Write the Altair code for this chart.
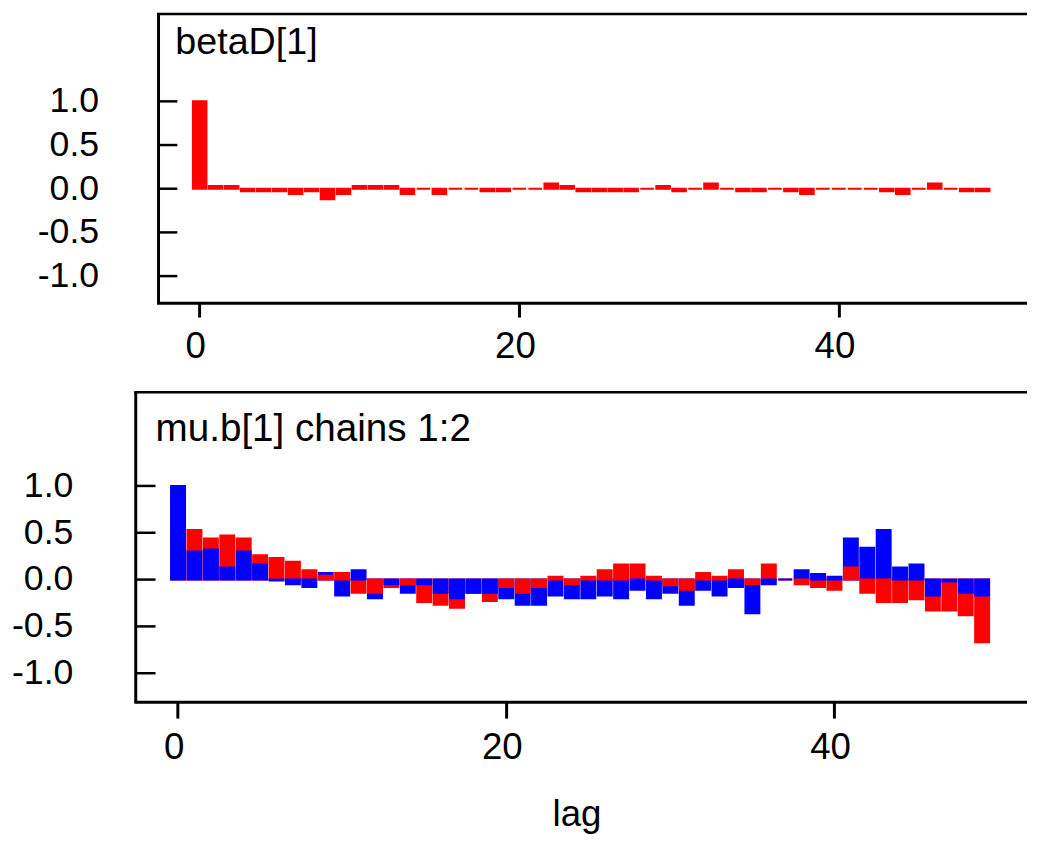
import altair as alt
import pandas as pd

# ---------------- data ----------------
lags = list(range(50))

betaD_acf = [1.0, 0.03, 0.03, -0.03, -0.03, -0.03, -0.06, -0.03, -0.12, -0.06,
             0.03, 0.03, 0.03, -0.06, 0.0, -0.06, 0.0, 0.0, -0.03, -0.03,
             0.0, 0.0, 0.06, 0.03, -0.03, -0.03, -0.03, -0.03, 0.0, 0.03,
             -0.03, 0.0, 0.06, 0.0, -0.03, -0.03, 0.0, -0.03, -0.06, 0.0,
             0.0, 0.0, 0.0, -0.03, -0.06, 0.0, 0.06, 0.0, -0.03, -0.03]

mub_chain1 = [1.0, 0.30, 0.32, 0.13, 0.30, 0.16, -0.01, -0.05, -0.08, 0.07,
              -0.17, 0.10, -0.20, -0.05, -0.14, -0.05, -0.14, -0.20, -0.14, -0.14,
              -0.20, -0.27, -0.27, -0.17, -0.20, -0.20, -0.17, -0.20, -0.11, -0.20,
              -0.14, -0.27, -0.11, -0.17, -0.08, -0.36, -0.05, 0.0, 0.10, 0.06,
              0.03, 0.44, 0.34, 0.53, 0.13, 0.16, -0.17, -0.02, -0.14, -0.17]

mub_chain2 = [1.0, 0.53, 0.44, 0.47, 0.44, 0.26, 0.23, 0.19, 0.10, 0.04,
              0.07, -0.14, -0.14, -0.08, -0.05, -0.24, -0.27, -0.30, -0.14, -0.23,
              -0.08, -0.14, -0.08, 0.03, -0.05, 0.03, 0.10, 0.16, 0.16, 0.03,
              -0.06, -0.11, 0.07, 0.03, 0.10, -0.05, 0.16, 0.0, -0.05, -0.08,
              -0.11, 0.13, -0.14, -0.24, -0.24, -0.21, -0.33, -0.33, -0.38, -0.67]

ytick_values = [-1.0, -0.5, 0.0, 0.5, 1.0]
ytick_labels = ["-1.0", "-0.5", "0.0", "0.5", "1.0"]
xtick_values = [0, 20, 40]
panel_titles = ["betaD[1]", "mu.b[1] chains 1:2"]
chain_names = ["1", "2"]
chain_colors = ["#0000FF", "#FF0000"]
x_title = "lag"

FONT = "Liberation Sans"

# ---------------- tables ----------------
top_df = pd.DataFrame({"lag": lags, "acf": betaD_acf, "chain": "2"})

rows = []
for lag, a, b in zip(lags, mub_chain1, mub_chain2):
    pair = [("1", a), ("2", b)]
    # the bar with the larger magnitude is drawn first, the smaller one on top
    pair.sort(key=lambda p: (-abs(p[1]), p[0] == "1"))
    for ch, v in pair:
        rows.append({"lag": lag, "acf": v, "chain": ch})
bot_df = pd.DataFrame(rows)

ytick_df = pd.DataFrame({"v": ytick_values, "lab": ytick_labels})
one_df = pd.DataFrame({"v": [0]})

color_scale = alt.Scale(domain=chain_names, range=chain_colors)
y_scale = alt.Scale(domain=[-1.31, 2.0], nice=False, zero=False)

WIDTH = 877      # common plot width (both panels share the same origin)
SPACER = 152     # how far every panel reaches to the left of its origin


def panel(df, title, height, x_domain, shift, inner_tick, xtick_size,
          xlab_pad, ylab_pad, tx, ty, title_size, show_xtitle):
    """shift: how many pixels the frame (left axis) sits left of the origin."""
    x_scale = alt.Scale(domain=x_domain, nice=False, zero=False)
    xaxis_kw = dict(values=xtick_values, format="d", tickSize=xtick_size,
                    tickWidth=3, tickColor="black", domain=False,
                    labelFontSize=37, labelFont=FONT,
                    labelColor="black", labelPadding=xlab_pad, grid=False,
                    labelFlush=False, labelOffset=-4)
    if show_xtitle:
        xaxis_kw.update(title=x_title, titleFontSize=37, titleFont=FONT,
                        titleFontWeight="normal", titleColor="black",
                        titlePadding=31, titleX=422)
    else:
        xaxis_kw.update(title=None)

    bars = alt.Chart(df).transform_calculate(
        lo="datum.lag - 0.4", hi="datum.lag + 0.45"
    ).mark_rect(strokeWidth=2).encode(
        x=alt.X("lo:Q", scale=x_scale, axis=alt.Axis(**xaxis_kw)),
        x2="hi:Q",
        y=alt.Y("acf:Q", scale=y_scale, axis=None),
        y2=alt.datum(0),
        color=alt.Color("chain:N", scale=color_scale, legend=None),
        stroke=alt.Stroke("chain:N", scale=color_scale, legend=None),
    )

    # inward tick marks on the left axis
    ticks = alt.Chart(ytick_df).mark_rule(strokeWidth=2.5, color="black").encode(
        y=alt.Y("v:Q", scale=y_scale, axis=None),
        x=alt.value(-shift),
        x2=alt.value(-shift + inner_tick),
    )

    # left-axis tick labels
    ylabels = alt.Chart(ytick_df).mark_text(
        align="right", baseline="middle", fontSize=36, font=FONT,
        color="black").encode(
        y=alt.Y("v:Q", scale=y_scale, axis=None),
        x=alt.value(-shift - ylab_pad),
        text="lab:N",
    )

    # invisible spacer that fixes how far the panel reaches to the left
    spacer = alt.Chart(one_df).mark_rule(opacity=0).encode(
        x=alt.value(-SPACER), x2=alt.value(-SPACER + 2), y=alt.value(0))

    # frame: top line, left line, bottom line
    top_line = alt.Chart(one_df).mark_rule(
        strokeWidth=2.5, color="black").encode(
        x=alt.value(-shift - 1.5), x2=alt.value(WIDTH), y=alt.value(0))
    left_line = alt.Chart(one_df).mark_rule(
        strokeWidth=3, color="black").encode(
        x=alt.value(-shift), y=alt.value(0), y2=alt.value(height))
    bottom_line = alt.Chart(one_df).mark_rule(
        strokeWidth=3, color="black").encode(
        x=alt.value(-shift - 1.5), x2=alt.value(WIDTH), y=alt.value(height))

    label = alt.Chart(pd.DataFrame({"t": [title]})).mark_text(
        align="left", baseline="alphabetic", fontSize=title_size, font=FONT,
        color="black").encode(x=alt.value(tx - shift), y=alt.value(ty),
                              text="t:N")

    return alt.layer(bars, ticks, ylabels, spacer, top_line, left_line,
                     bottom_line, label).properties(width=WIDTH, height=height)


top = panel(top_df, panel_titles[0], 292, [-2.55, 51.8], 0, 19, 14, 12, 60,
            17, 40, 38, False)
bottom = panel(bot_df, panel_titles[1], 313, [-1.165, 51.76], 23, 20, 16, 12,
               63, 20, 49, 39, True)

chart = alt.vconcat(top, bottom, spacing=26).properties(
    padding=0
).configure(font=FONT).configure_view(strokeWidth=0, stroke="transparent")

chart.save("out.html", embed_options={"renderer": "svg", "actions": False})
